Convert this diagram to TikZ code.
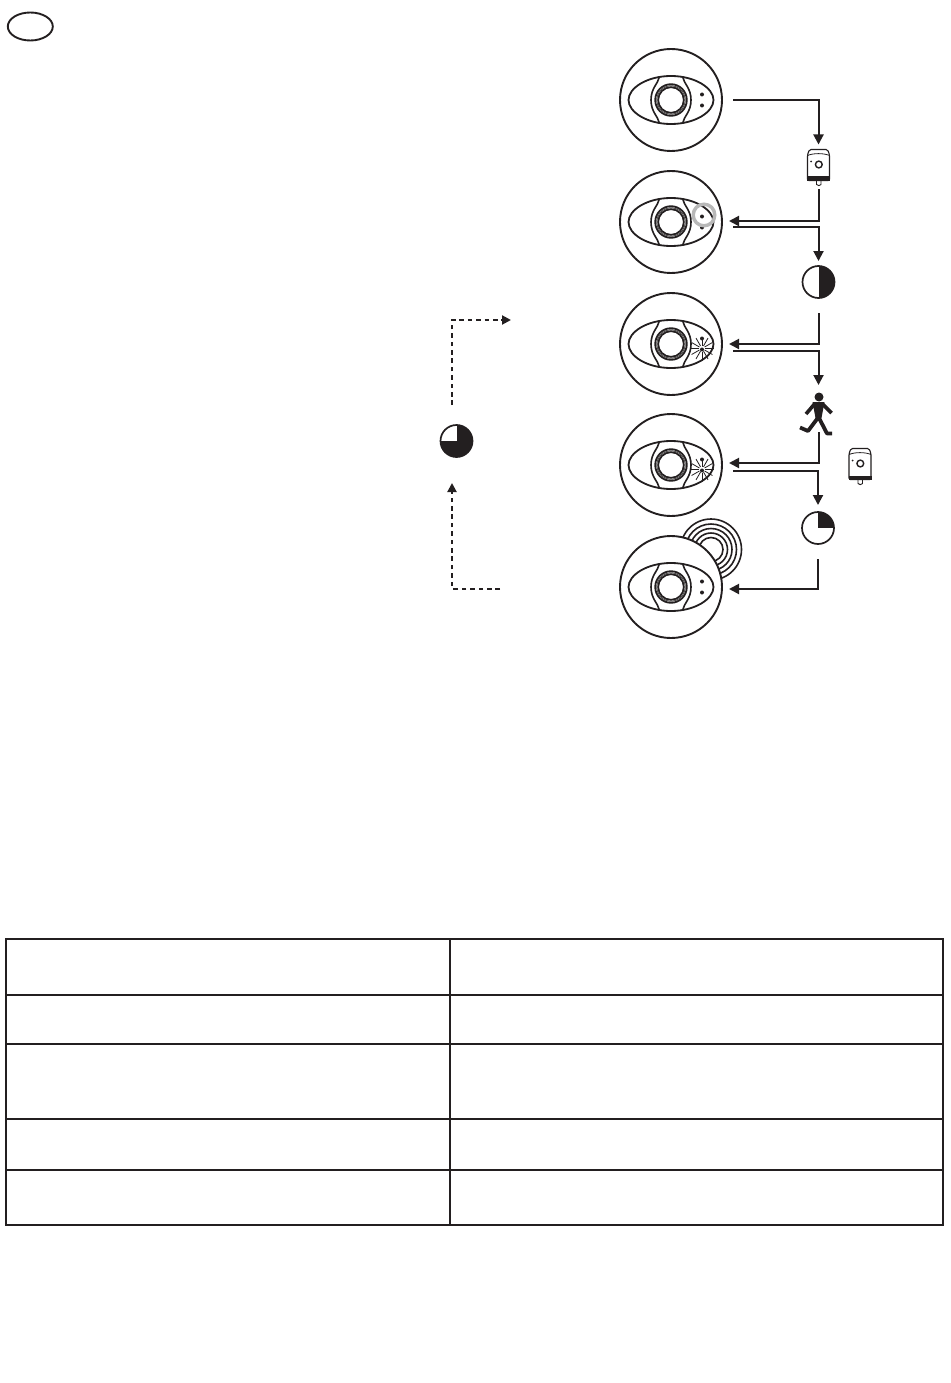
\documentclass[tikz,border=0pt]{standalone}
\usepackage{tikz}
\usetikzlibrary{arrows.meta,positioning,calc,shapes.geometric}

\definecolor{inkblack}{HTML}{231F20}

\tikzset{
  unitring/.style={circle,draw=inkblack,fill=white,line width=1.9pt,minimum size=102pt,inner sep=0pt,outer sep=0pt},
  iconslot/.style={rectangle,inner sep=0pt,outer sep=0pt},
  clockface/.style={circle,draw=inkblack,fill=white,line width=1.7pt,minimum size=32pt,inner sep=0pt,outer sep=0pt},
  flow/.style={line width=2pt,draw=inkblack,-{Triangle[length=10pt,width=10pt]}},
  dashflow/.style={line width=2pt,draw=inkblack,dash pattern=on 4.6pt off 3.8pt,-{Triangle[length=9pt,width=9pt]}},
  tablerule/.style={line width=2.2pt,draw=inkblack},
  eyeface/.pic={
    \draw[inkblack,line width=1.8pt] (-42.5,0) .. controls (-42.5,-12) and (-24,-24) .. (0,-24)
      .. controls (24,-24) and (42.5,-12) .. (42.5,0)
      .. controls (42.5,12) and (24,24) .. (0,24)
      .. controls (-24,24) and (-42.5,12) .. (-42.5,0) -- cycle;
    \draw[inkblack,line width=1.6pt] (-11.5,-23.5) .. controls (-13,-16) and (-20,-12) .. (-20,0)
      .. controls (-20,12) and (-13,16) .. (-11.5,23.5);
    \draw[inkblack,line width=1.6pt] (11.5,-23.5) .. controls (13,-16) and (20,-12) .. (20,0)
      .. controls (20,12) and (13,16) .. (11.5,23.5);
    \draw[inkblack,line width=1.8pt] (0,0) circle (15.8);
    \draw[inkblack!80,line width=1pt] (0,0) circle (14.2);
    \draw[inkblack,line width=1.7pt] (0,0) circle (12.8);
    \fill[inkblack] (31,-5.5) circle (2) (31,5.5) circle (2);
  },
  burstmark/.pic={
    \foreach \a in {0,30,...,330} {
      \draw[inkblack,line width=0.8pt] (31,4.5) ++(\a:3) -- ++(\a:9);
    }
  },
  camunit/.pic={
    \draw[inkblack,fill=white,line width=1.1pt,rounded corners=1.5pt] (-11,-13) -- (-9,-18) -- (9,-18) -- (11,-13) -- (11,13) -- (-11,13) -- cycle;
    \draw[inkblack,line width=0.8pt] (-11,-12) .. controls (-5,-14.5) and (5,-14.5) .. (11,-12);
    \fill[inkblack] (-11.5,9) rectangle (11.5,13.5);
    \draw[inkblack,line width=1.4pt] (0.3,-3) circle (3.4);
    \fill[inkblack] (-7.5,-6) circle (1);
    \draw[inkblack,line width=0.9pt] (-2,13.5) -- (-2,17) .. controls (-1,18.5) and (1.5,18.5) .. (2.5,17) -- (2.5,13.5);
  },
  walker/.pic={
    \fill[inkblack] (0.5,-15) circle (4.5);
    \fill[inkblack] (-6,-10) -- (6,-10) -- (3,6) -- (-3,6) -- cycle;
    \draw[inkblack,line width=3.6pt,line join=round] (-12.5,2) -- (-4,-8) -- (4,-8) -- (13,1);
    \draw[inkblack,line width=3.8pt,line join=round] (-18.5,15.5) -- (-10.5,19) -- (0,5) -- (8.5,21.5) -- (13.5,21.5);
  }
}

\begin{document}
\begin{tikzpicture}[x=1pt,y=-1pt]
  \useasboundingbox (0,0) rectangle (950,1383);
  % corner oval
  \node[ellipse,draw=inkblack,line width=1.9pt,minimum width=45pt,minimum height=28pt,inner sep=0pt] (cornermark) at (30.3,26.5) {};
  % rings behind the last unit
  \foreach \r in {12,16.5,21,25.5,30.5} {
    \draw[inkblack,line width=1.6pt] (711,549.5) circle (\r);
  }
  % sensor units
  \foreach \nm/\yy in {unita/100, unitb/222, unitc/344, unitd/465, unite/587} {
    \node[unitring] (\nm) at (671,\yy) {};
    \pic at (\nm) {eyeface};
  }
  \pic at (unitc) {burstmark};
  \pic at (unitd) {burstmark};
  \draw[black!28,line width=3.4pt] ($(unitb)+(33,-7)$) circle (10.8);
  % icons on the right
  \node[iconslot,minimum width=23pt,minimum height=36pt] (deva) at (818.5,167.5) {};
  \pic at (deva) {camunit};
  \node[clockface,path picture={\fill[inkblack] (path picture bounding box.north) rectangle (path picture bounding box.south east);}] (halfdisc) at (818.5,282) {};
  \node[iconslot,minimum width=32pt,minimum height=36pt] (walkfig) at (818.5,412) {};
  \pic at (walkfig) {walker};
  \node[iconslot,minimum width=23pt,minimum height=36pt] (devb) at (860,466.5) {};
  \pic at (devb) {camunit};
  \node[clockface,path picture={\fill[inkblack] (path picture bounding box.center) rectangle (path picture bounding box.north east);}] (quarterdisc) at (818,528) {};
  % timer on the left
  \node[clockface,fill=inkblack,path picture={\fill[white] (path picture bounding box.center) rectangle (path picture bounding box.north west);}] (darkdisc) at (456.5,441) {};
  % flow arrows
  \draw[flow,shorten <=11pt,shorten >=5pt] (unita.east) -| (deva.north);
  \draw[flow,shorten <=4pt,shorten >=7pt] (deva.south) |- ([yshift=1pt]unitb.east);
  \draw[flow,shorten <=11pt,shorten >=5pt] ([yshift=-5pt]unitb.east) -| (halfdisc.north);
  \draw[flow,shorten <=15pt,shorten >=7pt] (halfdisc.south) |- (unitc.east);
  \draw[flow,shorten <=11pt,shorten >=9pt] ([yshift=-7pt]unitc.east) -| (walkfig.north);
  \draw[flow,shorten <=2pt,shorten >=7pt] (walkfig.south) |- ([yshift=2pt]unitd.east);
  \draw[flow,shorten <=11pt,shorten >=7pt] ([yshift=-6pt]unitd.east) -| (quarterdisc.north);
  \draw[flow,shorten <=15pt,shorten >=7pt] (quarterdisc.south) |- ([yshift=-2pt]unite.east);
  % dashed path round the timer
  \coordinate (dashin) at (500,588.5);
  \coordinate (dashout) at (511,320);
  \draw[dashflow,shorten >=26pt] (dashin) -| ([xshift=-4.5pt]darkdisc.south);
  \draw[dashflow,shorten <=20pt] ([xshift=-4.5pt]darkdisc.north) |- (dashout);
  % table
  \draw[tablerule] (6,939) rectangle (943,1225);
  \foreach \yy in {995,1044,1119,1170} {
    \draw[tablerule] (6,\yy) -- (943,\yy);
  }
  \draw[tablerule,line width=1.8pt] (450,939) -- (450,1225);
\end{tikzpicture}
\end{document}
